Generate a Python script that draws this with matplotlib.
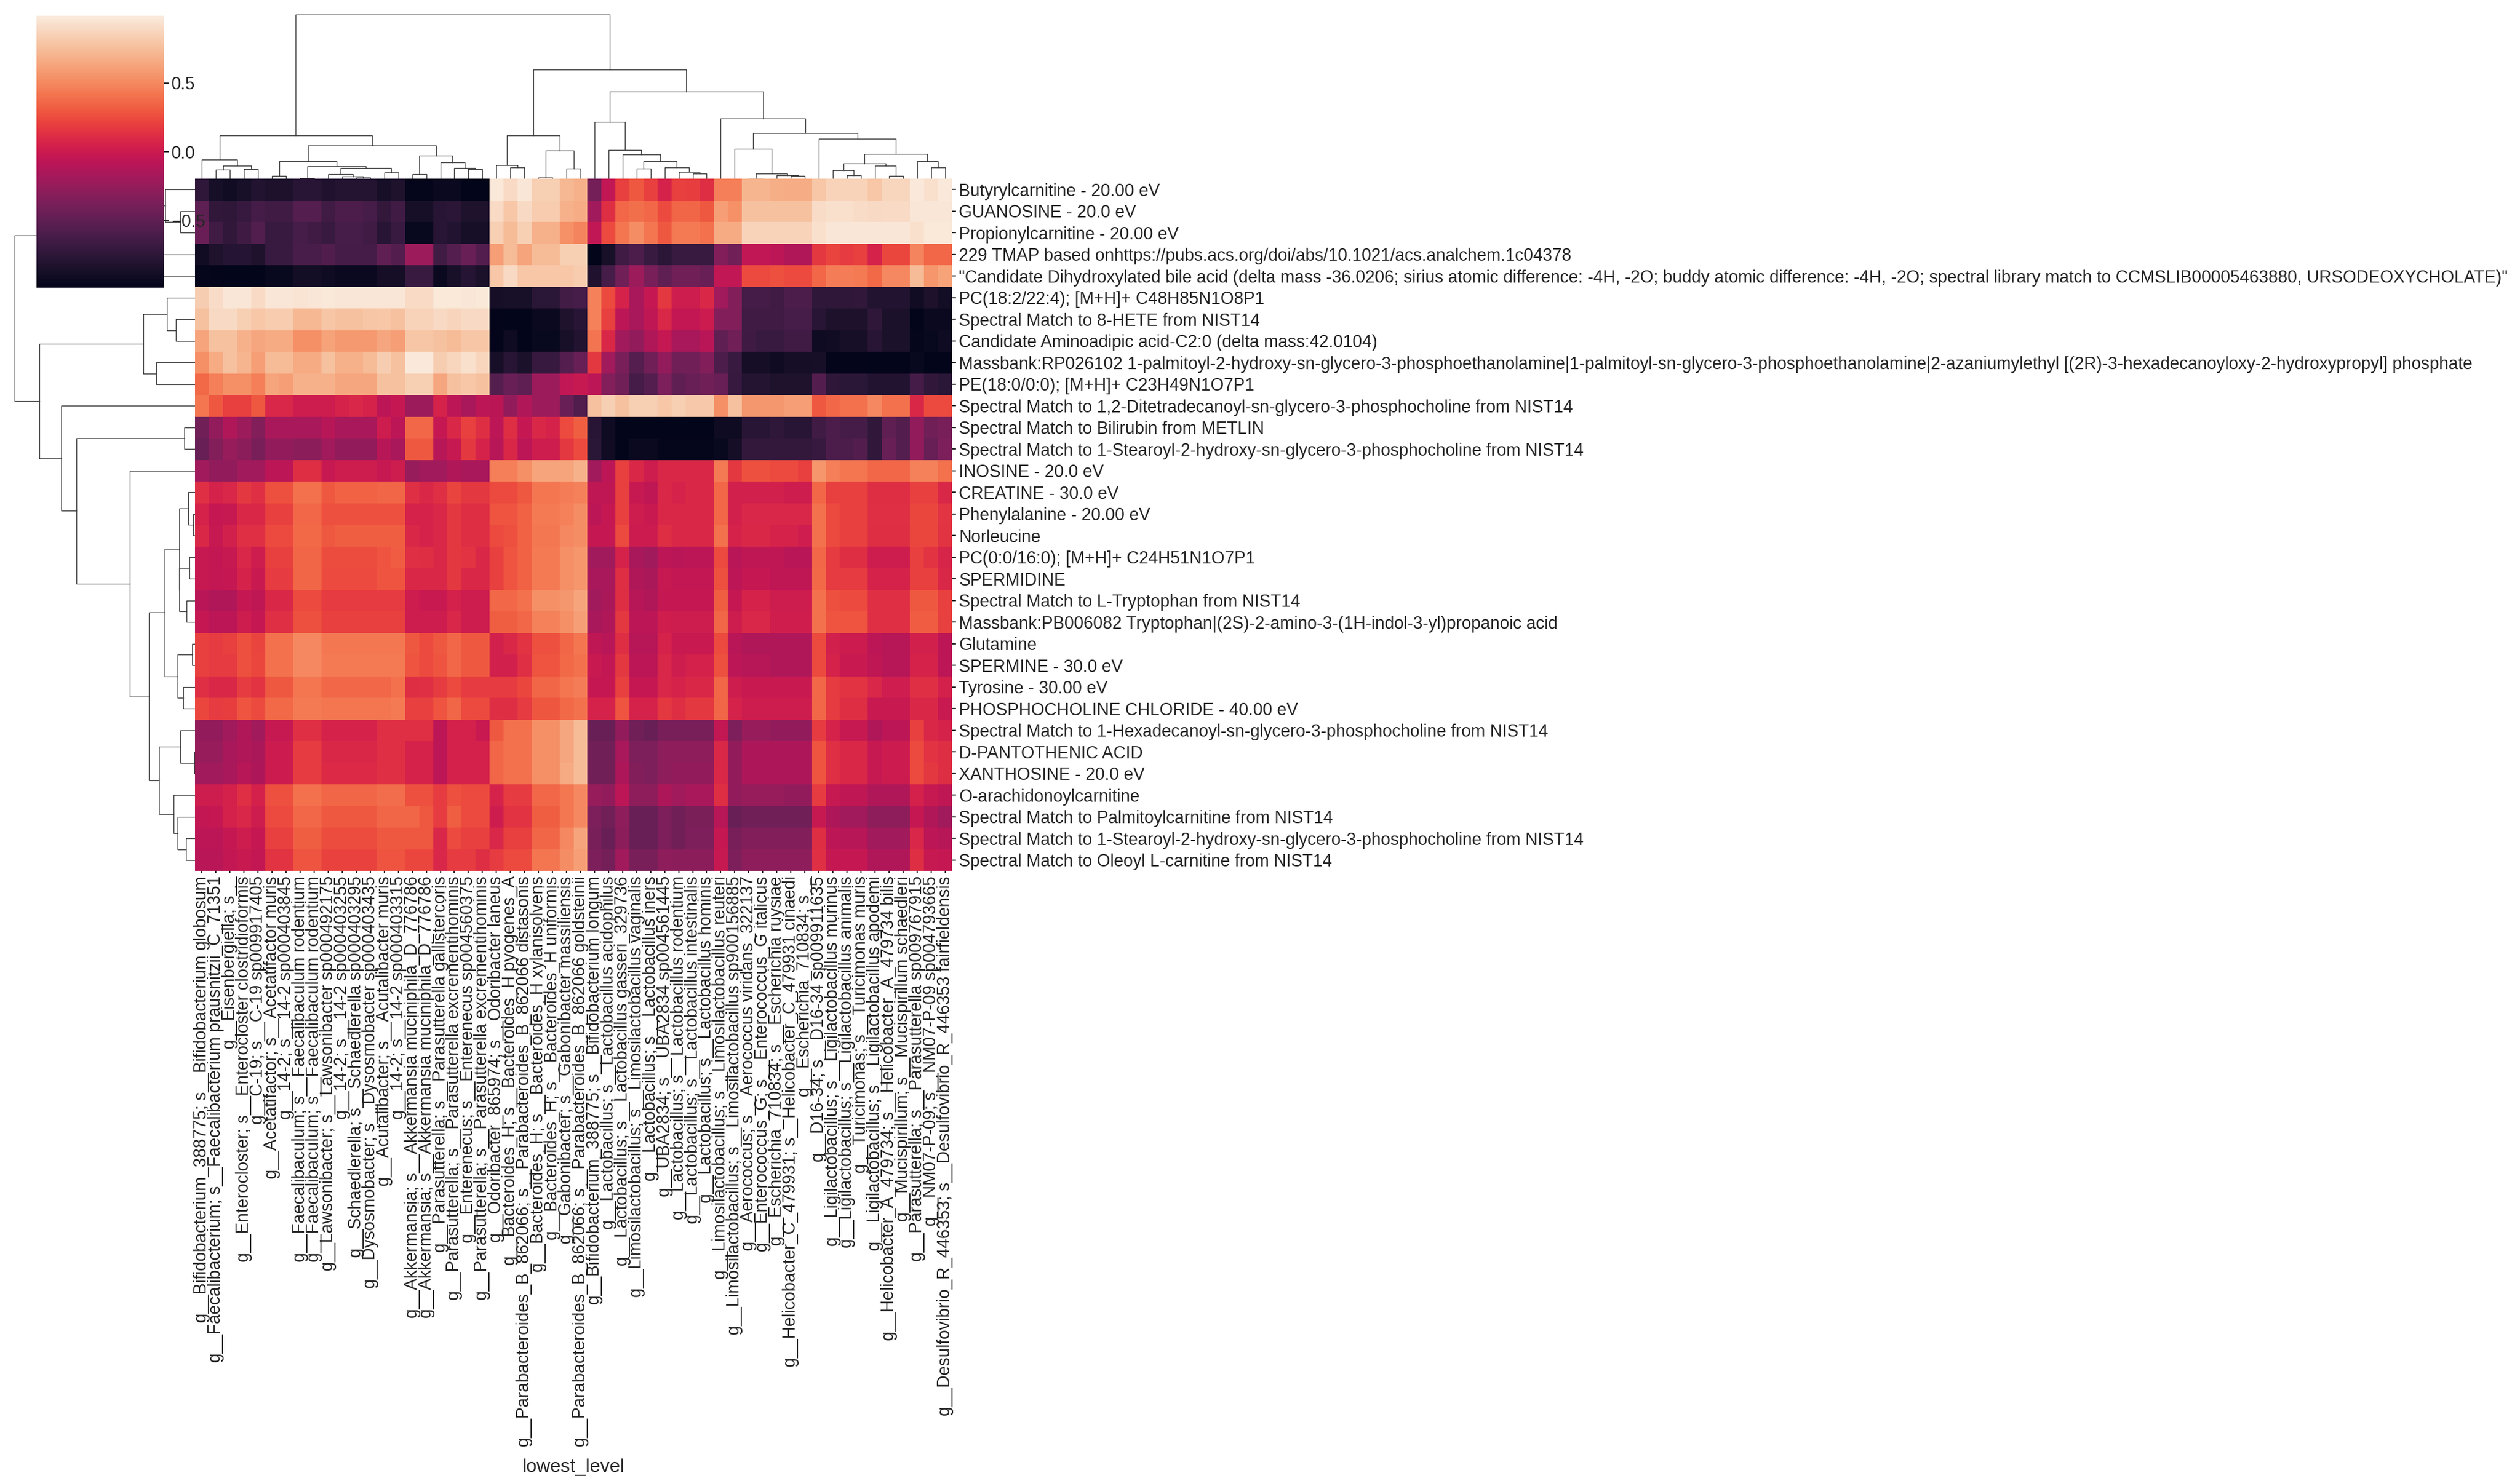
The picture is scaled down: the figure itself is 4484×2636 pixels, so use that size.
import matplotlib
matplotlib.use("Agg")
import matplotlib.pyplot as plt
import pandas as pd
import seaborn as sns

# metabolites (rows, top to bottom as displayed)
ROW_LABELS = [
    "Butyrylcarnitine - 20.00 eV",
    "GUANOSINE - 20.0 eV",
    "Propionylcarnitine - 20.00 eV",
    "229 TMAP based onhttps://pubs.acs.org/doi/abs/10.1021/acs.analchem.1c04378",
    '"Candidate Dihydroxylated bile acid (delta mass -36.0206; sirius atomic difference: -4H, -2O; '
    'buddy atomic difference: -4H, -2O; spectral library match to CCMSLIB00005463880, URSODEOXYCHOLATE)"',
    "PC(18:2/22:4); [M+H]+ C48H85N1O8P1",
    "Spectral Match to 8-HETE from NIST14",
    "Candidate Aminoadipic acid-C2:0 (delta mass:42.0104)",
    "Massbank:RP026102 1-palmitoyl-2-hydroxy-sn-glycero-3-phosphoethanolamine|1-palmitoyl-sn-glycero-3-"
    "phosphoethanolamine|2-azaniumylethyl [(2R)-3-hexadecanoyloxy-2-hydroxypropyl] phosphate",
    "PE(18:0/0:0); [M+H]+ C23H49N1O7P1",
    "Spectral Match to 1,2-Ditetradecanoyl-sn-glycero-3-phosphocholine from NIST14",
    "Spectral Match to Bilirubin from METLIN",
    "Spectral Match to 1-Stearoyl-2-hydroxy-sn-glycero-3-phosphocholine from NIST14",
    "INOSINE - 20.0 eV",
    "CREATINE - 30.0 eV",
    "Phenylalanine - 20.00 eV",
    "Norleucine",
    "PC(0:0/16:0); [M+H]+ C24H51N1O7P1",
    "SPERMIDINE",
    "Spectral Match to L-Tryptophan from NIST14",
    "Massbank:PB006082 Tryptophan|(2S)-2-amino-3-(1H-indol-3-yl)propanoic acid",
    "Glutamine",
    "SPERMINE - 30.0 eV",
    "Tyrosine - 30.00 eV",
    "PHOSPHOCHOLINE CHLORIDE - 40.00 eV",
    "Spectral Match to 1-Hexadecanoyl-sn-glycero-3-phosphocholine from NIST14",
    "D-PANTOTHENIC ACID",
    "XANTHOSINE - 20.0 eV",
    "O-arachidonoylcarnitine",
    "Spectral Match to Palmitoylcarnitine from NIST14",
    "Spectral Match to 1-Stearoyl-2-hydroxy-sn-glycero-3-phosphocholine from NIST14",
    "Spectral Match to Oleoyl L-carnitine from NIST14",
]

# taxa (columns, left to right as displayed)
COL_LABELS = [
    "g__Bifidobacterium_388775; s__Bifidobacterium globosum",
    "g__Faecalibacterium; s__Faecalibacterium prausnitzii_C_71351",
    "g__Eisenbergiella; s__",
    "g__Enterocloster; s__Enterocloster clostridioformis",
    "g__C-19; s__C-19 sp009917405",
    "g__Acetatifactor; s__Acetatifactor muris",
    "g__14-2; s__14-2 sp000403845",
    "g__Faecalibaculum; s__Faecalibaculum rodentium",
    "g__Faecalibaculum; s__Faecalibaculum rodentium",
    "g__Lawsonibacter; s__Lawsonibacter sp000492175",
    "g__14-2; s__14-2 sp000403255",
    "g__Schaedlerella; s__Schaedlerella sp000403295",
    "g__Dysosmobacter; s__Dysosmobacter sp000403435",
    "g__Acutalibacter; s__Acutalibacter muris",
    "g__14-2; s__14-2 sp000403315",
    "g__Akkermansia; s__Akkermansia muciniphila_D_776786",
    "g__Akkermansia; s__Akkermansia muciniphila_D_776786",
    "g__Parasutterella; s__Parasutterella gallistercoris",
    "g__Parasutterella; s__Parasutterella excrementihominis",
    "g__Enterenecus; s__Enterenecus sp004560375",
    "g__Parasutterella; s__Parasutterella excrementihominis",
    "g__Odoribacter_865974; s__Odoribacter laneus",
    "g__Bacteroides_H; s__Bacteroides_H pyogenes_A",
    "g__Parabacteroides_B_862066; s__Parabacteroides_B_862066 distasonis",
    "g__Bacteroides_H; s__Bacteroides_H xylanisolvens",
    "g__Bacteroides_H; s__Bacteroides_H uniformis",
    "g__Gabonibacter; s__Gabonibacter massiliensis",
    "g__Parabacteroides_B_862066; s__Parabacteroides_B_862066 goldsteinii",
    "g__Bifidobacterium_388775; s__Bifidobacterium longum",
    "g__Lactobacillus; s__Lactobacillus acidophilus",
    "g__Lactobacillus; s__Lactobacillus gasseri_329736",
    "g__Limosilactobacillus; s__Limosilactobacillus vaginalis",
    "g__Lactobacillus; s__Lactobacillus iners",
    "g__UBA2834; s__UBA2834 sp004561445",
    "g__Lactobacillus; s__Lactobacillus rodentium",
    "g__Lactobacillus; s__Lactobacillus intestinalis",
    "g__Lactobacillus; s__Lactobacillus hominis",
    "g__Limosilactobacillus; s__Limosilactobacillus reuteri",
    "g__Limosilactobacillus; s__Limosilactobacillus sp900156885",
    "g__Aerococcus; s__Aerococcus viridans_322137",
    "g__Enterococcus_G; s__Enterococcus_G italicus",
    "g__Escherichia_710834; s__Escherichia ruysiae",
    "g__Helicobacter_C_479931; s__Helicobacter_C_479931 cinaedi",
    "g__Escherichia_710834; s__",
    "g__D16-34; s__D16-34 sp009911635",
    "g__Ligilactobacillus; s__Ligilactobacillus murinus",
    "g__Ligilactobacillus; s__Ligilactobacillus animalis",
    "g__Turicimonas; s__Turicimonas muris",
    "g__Ligilactobacillus; s__Ligilactobacillus apodemi",
    "g__Helicobacter_A_479734; s__Helicobacter_A_479734 bilis",
    "g__Mucispirillum; s__Mucispirillum schaedleri",
    "g__Parasutterella; s__Parasutterella sp009767915",
    "g__NM07-P-09; s__NM07-P-09 sp004793665",
    "g__Desulfovibrio_R_446353; s__Desulfovibrio_R_446353 fairfieldensis",
]

# correlation values, one list per row (54 columns each)
CORR = [
    [-0.75, -0.87, -0.90, -0.86, -0.81, -0.84, -0.84, -0.78, -0.78, -0.82, -0.80, -0.80, -0.80, -0.87, -0.83, -0.97, -0.97, -0.94, -0.94, -0.99, -0.99, 0.97, 0.90, 0.96, 0.84, 0.84, 0.72,
     0.69, -0.40, -0.05, 0.20, 0.30, 0.20, 0.06, 0.20, 0.19, 0.12, 0.46, 0.46, 0.71, 0.71, 0.68, 0.67, 0.67, 0.80, 0.86, 0.86, 0.86, 0.80, 0.88, 0.88, 0.98, 0.93, 0.98],
    [-0.51, -0.73, -0.75, -0.70, -0.63, -0.65, -0.65, -0.55, -0.55, -0.65, -0.59, -0.59, -0.62, -0.72, -0.65, -0.87, -0.87, -0.78, -0.76, -0.83, -0.83, 0.90, 0.80, 0.89, 0.82, 0.82, 0.69,
     0.67, -0.20, 0.12, 0.36, 0.39, 0.36, 0.24, 0.35, 0.35, 0.30, 0.60, 0.54, 0.77, 0.77, 0.77, 0.77, 0.77, 0.91, 0.93, 0.93, 0.91, 0.89, 0.90, 0.90, 0.96, 0.96, 0.96],
    [-0.45, -0.65, -0.73, -0.66, -0.57, -0.69, -0.69, -0.62, -0.65, -0.69, -0.62, -0.62, -0.65, -0.78, -0.69, -0.95, -0.95, -0.78, -0.81, -0.87, -0.87, 0.84, 0.74, 0.84, 0.69, 0.69, 0.54,
     0.48, -0.05, 0.24, 0.42, 0.52, 0.42, 0.30, 0.44, 0.44, 0.40, 0.66, 0.66, 0.86, 0.86, 0.86, 0.86, 0.86, 0.93, 0.96, 0.96, 0.96, 0.96, 0.96, 0.96, 0.93, 0.97, 0.97],
    [-0.90, -0.83, -0.79, -0.79, -0.83, -0.69, -0.69, -0.61, -0.61, -0.58, -0.63, -0.63, -0.63, -0.50, -0.56, -0.22, -0.22, -0.65, -0.55, -0.46, -0.56, 0.60, 0.74, 0.63, 0.74, 0.74, 0.84,
     0.84, -0.99, -0.86, -0.65, -0.59, -0.69, -0.76, -0.69, -0.69, -0.69, -0.34, -0.42, -0.05, -0.05, -0.07, -0.13, -0.13, 0.17, 0.22, 0.18, 0.20, 0.06, 0.23, 0.23, 0.48, 0.36, 0.36],
    [-0.97, -0.98, -0.99, -0.99, -0.99, -0.95, -0.95, -0.89, -0.89, -0.92, -0.93, -0.93, -0.93, -0.88, -0.88, -0.69, -0.69, -0.93, -0.86, -0.79, -0.85, 0.80, 0.89, 0.80, 0.80, 0.80, 0.80,
     0.82, -0.82, -0.62, -0.42, -0.22, -0.38, -0.50, -0.42, -0.42, -0.46, -0.05, -0.05, 0.24, 0.24, 0.27, 0.24, 0.24, 0.36, 0.45, 0.45, 0.44, 0.37, 0.50, 0.50, 0.74, 0.56, 0.62],
    [0.83, 0.91, 0.96, 0.96, 0.90, 0.96, 0.96, 0.95, 0.96, 0.97, 0.96, 0.96, 0.96, 0.96, 0.96, 0.90, 0.90, 0.97, 0.97, 0.96, 0.97, -0.88, -0.86, -0.86, -0.77, -0.77, -0.64,
     -0.62, 0.47, 0.24, 0.06, -0.17, -0.03, 0.17, 0.01, 0.01, 0.09, -0.20, -0.34, -0.63, -0.63, -0.65, -0.59, -0.59, -0.75, -0.75, -0.75, -0.73, -0.81, -0.81, -0.81, -0.90, -0.84, -0.89],
    [0.77, 0.89, 0.89, 0.84, 0.80, 0.82, 0.82, 0.72, 0.72, 0.79, 0.77, 0.77, 0.79, 0.80, 0.77, 0.86, 0.86, 0.89, 0.87, 0.89, 0.89, -0.98, -0.99, -0.99, -0.93, -0.93, -0.83,
     -0.78, 0.47, 0.20, -0.07, -0.17, -0.06, 0.09, -0.04, -0.04, 0.00, -0.34, -0.34, -0.65, -0.65, -0.65, -0.62, -0.62, -0.78, -0.84, -0.84, -0.84, -0.75, -0.85, -0.85, -0.99, -0.94, -0.94],
    [0.63, 0.77, 0.77, 0.69, 0.64, 0.66, 0.66, 0.53, 0.53, 0.62, 0.58, 0.58, 0.58, 0.64, 0.60, 0.79, 0.79, 0.77, 0.74, 0.79, 0.79, -0.98, -0.92, -0.99, -0.95, -0.95, -0.86,
     -0.81, 0.41, 0.09, -0.20, -0.27, -0.13, -0.03, -0.17, -0.17, -0.09, -0.50, -0.42, -0.66, -0.69, -0.69, -0.65, -0.65, -0.92, -0.90, -0.87, -0.87, -0.78, -0.85, -0.85, -0.97, -0.95, -0.92],
    [0.53, 0.66, 0.77, 0.71, 0.60, 0.74, 0.74, 0.66, 0.66, 0.77, 0.69, 0.69, 0.74, 0.83, 0.77, 0.98, 0.98, 0.83, 0.88, 0.93, 0.88, -0.87, -0.78, -0.85, -0.70, -0.70, -0.55,
     -0.46, 0.17, -0.20, -0.38, -0.55, -0.42, -0.27, -0.42, -0.42, -0.34, -0.59, -0.69, -0.88, -0.88, -0.91, -0.88, -0.88, -0.87, -0.98, -0.98, -0.98, -0.99, -0.99, -0.99, -0.95, -0.99, -0.99],
    [0.37, 0.46, 0.53, 0.53, 0.46, 0.63, 0.60, 0.69, 0.69, 0.69, 0.64, 0.64, 0.64, 0.77, 0.77, 0.84, 0.84, 0.64, 0.77, 0.80, 0.77, -0.55, -0.46, -0.50, -0.22, -0.22, -0.05,
     -0.02, -0.07, -0.34, -0.42, -0.63, -0.55, -0.36, -0.50, -0.46, -0.42, -0.46, -0.70, -0.80, -0.80, -0.83, -0.83, -0.83, -0.56, -0.75, -0.77, -0.77, -0.81, -0.81, -0.81, -0.63, -0.73, -0.77],
    [0.42, 0.30, 0.20, 0.20, 0.30, 0.08, 0.08, 0.01, 0.01, 0.01, 0.06, 0.08, 0.06, -0.07, -0.03, -0.22, -0.22, 0.06, -0.07, -0.17, -0.07, -0.08, -0.27, -0.13, -0.22, -0.22, -0.46,
     -0.58, 0.77, 0.84, 0.77, 0.84, 0.84, 0.80, 0.84, 0.81, 0.81, 0.53, 0.77, 0.57, 0.57, 0.57, 0.60, 0.60, 0.30, 0.36, 0.40, 0.40, 0.50, 0.40, 0.40, 0.09, 0.24, 0.24],
    [-0.42, -0.27, -0.13, -0.22, -0.34, -0.17, -0.17, -0.17, -0.17, -0.10, -0.17, -0.17, -0.17, 0.01, -0.07, 0.36, 0.36, -0.03, 0.09, 0.20, 0.12, -0.07, 0.12, -0.03, 0.09, 0.06, 0.24,
     0.32, -0.78, -0.92, -0.99, -0.99, -0.99, -0.99, -0.99, -0.99, -0.99, -0.92, -0.92, -0.78, -0.78, -0.75, -0.78, -0.78, -0.65, -0.59, -0.63, -0.63, -0.73, -0.50, -0.56, -0.27, -0.42, -0.38],
    [-0.46, -0.34, -0.24, -0.30, -0.38, -0.27, -0.27, -0.30, -0.30, -0.20, -0.27, -0.27, -0.27, -0.10, -0.17, 0.30, 0.30, -0.10, -0.02, 0.17, 0.06, -0.10, 0.09, -0.07, 0.01, 0.01, 0.17,
     0.24, -0.77, -0.90, -0.99, -0.94, -0.94, -0.97, -0.97, -0.97, -0.97, -0.95, -0.88, -0.72, -0.72, -0.72, -0.72, -0.72, -0.70, -0.59, -0.59, -0.56, -0.73, -0.46, -0.55, -0.27, -0.46, -0.36],
    [-0.20, -0.27, -0.27, -0.20, -0.20, -0.07, -0.07, 0.12, 0.12, -0.02, 0.01, 0.01, 0.01, -0.02, 0.01, -0.24, -0.20, -0.20, -0.13, -0.17, -0.17, 0.46, 0.46, 0.53, 0.63, 0.63, 0.63,
     0.69, -0.20, -0.07, 0.20, 0.09, 0.01, 0.09, 0.09, 0.09, 0.09, 0.44, 0.17, 0.27, 0.27, 0.24, 0.24, 0.20, 0.56, 0.46, 0.42, 0.42, 0.36, 0.36, 0.36, 0.47, 0.47, 0.40],
    [0.13, 0.06, 0.08, 0.17, 0.13, 0.27, 0.27, 0.40, 0.40, 0.30, 0.34, 0.34, 0.34, 0.35, 0.35, 0.13, 0.09, 0.13, 0.22, 0.17, 0.17, 0.24, 0.24, 0.30, 0.42, 0.42, 0.45,
     0.47, -0.06, -0.06, 0.20, -0.02, -0.06, 0.09, 0.06, 0.09, 0.09, 0.36, 0.04, 0.04, 0.04, 0.04, 0.01, 0.01, 0.36, 0.20, 0.20, 0.20, 0.12, 0.12, 0.12, 0.20, 0.20, 0.09],
    [0.06, -0.03, -0.02, 0.09, 0.09, 0.20, 0.20, 0.36, 0.36, 0.27, 0.27, 0.27, 0.27, 0.27, 0.27, 0.06, 0.06, 0.09, 0.17, 0.12, 0.12, 0.28, 0.28, 0.34, 0.44, 0.44, 0.47,
     0.52, -0.07, -0.03, 0.20, 0.01, -0.01, 0.09, 0.09, 0.09, 0.09, 0.36, 0.04, 0.08, 0.08, 0.08, 0.08, 0.08, 0.40, 0.24, 0.20, 0.20, 0.13, 0.13, 0.13, 0.23, 0.23, 0.15],
    [0.09, -0.02, 0.04, 0.13, 0.13, 0.24, 0.24, 0.37, 0.37, 0.30, 0.32, 0.32, 0.32, 0.32, 0.32, 0.09, 0.06, 0.09, 0.17, 0.12, 0.12, 0.24, 0.27, 0.34, 0.43, 0.43, 0.50,
     0.52, -0.03, -0.03, 0.24, 0.00, 0.00, 0.12, 0.09, 0.09, 0.09, 0.40, 0.06, 0.09, 0.09, 0.06, 0.06, 0.02, 0.40, 0.24, 0.20, 0.20, 0.12, 0.12, 0.12, 0.23, 0.23, 0.14],
    [-0.02, -0.04, -0.02, 0.08, 0.01, 0.20, 0.20, 0.35, 0.35, 0.25, 0.25, 0.25, 0.25, 0.28, 0.31, 0.13, 0.12, 0.09, 0.17, 0.14, 0.09, 0.20, 0.28, 0.34, 0.44, 0.44, 0.53,
     0.56, -0.20, -0.20, 0.06, -0.17, -0.20, -0.07, -0.09, -0.07, -0.07, 0.24, -0.09, -0.06, -0.06, -0.06, -0.09, -0.09, 0.36, 0.18, 0.12, 0.12, 0.01, 0.01, 0.01, 0.20, 0.14, 0.07],
    [-0.02, -0.04, -0.03, 0.06, -0.01, 0.18, 0.18, 0.35, 0.35, 0.24, 0.24, 0.24, 0.24, 0.28, 0.28, 0.09, 0.09, 0.09, 0.17, 0.09, 0.09, 0.20, 0.28, 0.34, 0.44, 0.44, 0.53,
     0.56, -0.17, -0.17, 0.12, -0.13, -0.16, -0.02, -0.04, -0.04, -0.04, 0.27, -0.07, -0.03, -0.03, -0.06, -0.06, -0.06, 0.37, 0.18, 0.18, 0.18, 0.06, 0.06, 0.06, 0.20, 0.20, 0.09],
    [-0.09, -0.13, -0.13, -0.03, -0.06, 0.09, 0.09, 0.24, 0.24, 0.18, 0.18, 0.18, 0.18, 0.18, 0.18, 0.01, -0.01, -0.01, 0.05, 0.01, 0.01, 0.36, 0.36, 0.40, 0.53, 0.53, 0.57,
     0.63, -0.20, -0.16, 0.12, -0.10, -0.13, -0.03, -0.03, -0.03, -0.03, 0.32, -0.03, 0.06, 0.06, 0.01, 0.01, 0.01, 0.40, 0.27, 0.24, 0.24, 0.13, 0.13, 0.13, 0.30, 0.30, 0.20],
    [-0.03, -0.07, -0.07, 0.01, -0.03, 0.13, 0.13, 0.27, 0.27, 0.20, 0.20, 0.20, 0.20, 0.20, 0.20, 0.01, 0.01, 0.01, 0.08, 0.01, 0.01, 0.32, 0.32, 0.36, 0.47, 0.47, 0.53,
     0.60, -0.17, -0.13, 0.17, -0.07, -0.07, 0.03, 0.01, 0.01, 0.01, 0.35, 0.01, 0.08, 0.08, 0.03, 0.03, 0.03, 0.40, 0.28, 0.28, 0.28, 0.13, 0.13, 0.13, 0.31, 0.31, 0.20],
    [0.20, 0.18, 0.20, 0.27, 0.22, 0.40, 0.40, 0.50, 0.50, 0.43, 0.43, 0.43, 0.43, 0.43, 0.43, 0.30, 0.24, 0.30, 0.36, 0.30, 0.30, 0.04, 0.09, 0.14, 0.27, 0.27, 0.35,
     0.42, -0.06, -0.09, 0.12, -0.10, -0.10, 0.06, -0.01, -0.01, -0.01, 0.24, -0.09, -0.13, -0.13, -0.13, -0.13, -0.13, 0.24, 0.04, 0.00, 0.00, -0.07, -0.10, -0.10, 0.04, 0.04, -0.07],
    [0.20, 0.18, 0.18, 0.27, 0.23, 0.40, 0.40, 0.50, 0.50, 0.44, 0.44, 0.44, 0.44, 0.44, 0.44, 0.28, 0.24, 0.28, 0.36, 0.30, 0.30, 0.04, 0.04, 0.13, 0.28, 0.28, 0.37,
     0.40, -0.01, -0.04, 0.17, -0.07, -0.07, 0.08, 0.01, 0.05, 0.05, 0.27, -0.07, -0.10, -0.10, -0.13, -0.13, -0.13, 0.24, 0.06, -0.01, -0.01, -0.06, -0.10, -0.10, 0.06, 0.06, -0.07],
    [0.13, 0.09, 0.09, 0.18, 0.14, 0.30, 0.30, 0.42, 0.42, 0.36, 0.36, 0.36, 0.36, 0.36, 0.40, 0.12, 0.13, 0.18, 0.24, 0.18, 0.18, 0.18, 0.18, 0.23, 0.35, 0.35, 0.42,
     0.45, -0.03, -0.03, 0.20, -0.03, -0.03, 0.08, 0.06, 0.09, 0.09, 0.35, 0.01, -0.01, -0.01, -0.01, -0.01, -0.01, 0.36, 0.18, 0.14, 0.14, 0.08, 0.02, 0.02, 0.13, 0.13, 0.05],
    [0.23, 0.18, 0.19, 0.28, 0.24, 0.37, 0.37, 0.44, 0.44, 0.42, 0.42, 0.42, 0.42, 0.42, 0.44, 0.20, 0.20, 0.28, 0.35, 0.24, 0.24, 0.12, 0.12, 0.18, 0.29, 0.29, 0.37,
     0.40, 0.06, 0.06, 0.28, 0.06, 0.06, 0.17, 0.12, 0.17, 0.17, 0.35, 0.06, 0.01, 0.01, 0.01, 0.01, 0.01, 0.36, 0.18, 0.12, 0.12, -0.01, -0.01, -0.01, 0.09, 0.09, -0.01],
    [-0.27, -0.27, -0.20, -0.13, -0.20, -0.02, -0.02, 0.13, 0.13, 0.06, 0.06, 0.06, 0.06, 0.13, 0.13, 0.13, 0.13, -0.07, 0.05, 0.05, -0.01, 0.30, 0.40, 0.40, 0.53, 0.53, 0.64,
     0.74, -0.46, -0.46, -0.27, -0.42, -0.46, -0.38, -0.38, -0.38, -0.38, -0.04, -0.36, -0.24, -0.24, -0.27, -0.27, -0.27, 0.18, 0.06, -0.02, -0.02, -0.13, -0.07, -0.07, 0.20, 0.09, 0.06],
    [-0.24, -0.24, -0.17, -0.13, -0.16, 0.00, 0.00, 0.18, 0.18, 0.09, 0.09, 0.09, 0.09, 0.13, 0.13, 0.06, 0.06, -0.07, 0.05, 0.05, 0.05, 0.35, 0.40, 0.40, 0.53, 0.53, 0.64,
     0.74, -0.42, -0.42, -0.17, -0.36, -0.36, -0.28, -0.28, -0.28, -0.28, 0.09, -0.27, -0.14, -0.14, -0.14, -0.14, -0.14, 0.28, 0.13, 0.09, 0.09, -0.02, 0.00, 0.00, 0.24, 0.14, 0.12],
    [-0.20, -0.20, -0.17, -0.10, -0.14, 0.00, 0.00, 0.18, 0.18, 0.10, 0.10, 0.10, 0.10, 0.13, 0.13, 0.06, 0.06, -0.07, 0.05, 0.05, 0.05, 0.35, 0.40, 0.40, 0.53, 0.53, 0.66,
     0.74, -0.42, -0.42, -0.14, -0.34, -0.36, -0.28, -0.27, -0.27, -0.27, 0.09, -0.27, -0.14, -0.14, -0.14, -0.14, -0.14, 0.28, 0.13, 0.09, 0.09, -0.02, 0.00, 0.00, 0.24, 0.17, 0.12],
    [0.01, 0.01, 0.05, 0.13, 0.05, 0.27, 0.27, 0.40, 0.40, 0.35, 0.35, 0.35, 0.35, 0.38, 0.38, 0.27, 0.27, 0.18, 0.27, 0.24, 0.24, 0.06, 0.18, 0.18, 0.36, 0.36, 0.43,
     0.50, -0.24, -0.27, -0.07, -0.28, -0.28, -0.14, -0.20, -0.17, -0.17, 0.12, -0.27, -0.24, -0.24, -0.24, -0.27, -0.27, 0.18, -0.02, -0.06, -0.06, -0.13, -0.13, -0.13, 0.05, -0.02, -0.06],
    [-0.04, -0.03, 0.05, 0.08, 0.01, 0.24, 0.24, 0.36, 0.36, 0.30, 0.30, 0.30, 0.30, 0.35, 0.35, 0.35, 0.30, 0.18, 0.32, 0.24, 0.24, 0.01, 0.14, 0.14, 0.32, 0.32, 0.43,
     0.50, -0.36, -0.42, -0.28, -0.46, -0.46, -0.36, -0.42, -0.37, -0.37, -0.10, -0.46, -0.42, -0.42, -0.42, -0.42, -0.42, -0.02, -0.14, -0.20, -0.20, -0.28, -0.28, -0.28, -0.03, -0.13, -0.20],
    [-0.07, -0.07, -0.03, 0.01, -0.03, 0.20, 0.20, 0.32, 0.32, 0.25, 0.25, 0.25, 0.25, 0.30, 0.30, 0.30, 0.30, 0.08, 0.24, 0.20, 0.20, 0.08, 0.20, 0.20, 0.35, 0.35, 0.50,
     0.63, -0.38, -0.46, -0.30, -0.46, -0.46, -0.36, -0.42, -0.36, -0.36, -0.03, -0.38, -0.34, -0.34, -0.34, -0.34, -0.34, 0.12, -0.07, -0.10, -0.10, -0.20, -0.20, -0.20, 0.08, -0.07, -0.10],
    [-0.09, -0.09, -0.04, -0.01, -0.04, 0.14, 0.14, 0.28, 0.28, 0.21, 0.21, 0.21, 0.21, 0.28, 0.28, 0.23, 0.23, 0.08, 0.18, 0.18, 0.12, 0.18, 0.24, 0.24, 0.42, 0.42, 0.52,
     0.60, -0.36, -0.40, -0.20, -0.38, -0.38, -0.28, -0.30, -0.30, -0.30, -0.02, -0.36, -0.28, -0.28, -0.28, -0.28, -0.28, 0.13, -0.03, -0.03, -0.03, -0.13, -0.13, -0.13, 0.12, -0.02, -0.03],
]

# dendrograms as nested (left, right, merge height); ints are leaf positions
ROW_TREE = (
    ((0, (1, 2, 25.7), 53.0), (3, 4, 120.0), 200.0),
    (((5, (6, 7, 33.7), 49.7), (8, 9, 68.7), 91.7),
     (10, ((11, 12, 19.3),
           (13, (((((14, (15, 16, 2.7), 11.7), ((17, 18, 9.7), (19, 20, 14.7), 28.0), 28.3),
                   ((21, 22, 4.7), (23, 24, 20.7), 30.7), 53.7),
                  ((25, (26, 27, 1.3), 25.7), (28, (29, (30, 31, 15.7), 30.7), 37.7), 63.7), 81.7)),
            115.7), 210.7), 237.7), 277.0),
    320.7,
)

COL_TREE = (
    ((0, ((1, 2, 16.3), (3, 4, 17.3), 23.3), 34.3),
     (((5, 6, 5.3), ((7, 8, 1.3), ((9, (10, (11, 12, 2.3), 4.3), 8.3), (13, 14, 11.3), 19.3), 22.3), 31.3),
      ((15, 16, 8.3), (17, (18, (19, 20, 17.3), 19.3), 29.3), 41.3), 59.3), 77.3),
    (((21, (22, 23, 20.3), 24.3), ((24, 25, 2.3), (26, 27, 18.3), 50.0), 77.3),
     ((28, (29, (30, ((31, 32, 18.3), (33, (34, (35, 36, 9.3), 12.3), 20.3), 31.3), 43.3), 51.3), 100.3),
      (37, ((38, ((39, 40, 0.3), (41, (42, 43, 5.0), 6.3), 9.3), 53.3),
            (44, (((45, (46, 47, 6.3), 15.3), (48, (49, 50, 5.3), 23.3), 27.3),
                  (51, (52, 53, 20.3), 31.3), 44.3), 71.3), 81.3), 106.3), 154.3), 193.3),
    291.7,
)

TEXT = "#262626"
LINE = (0.2, 0.2, 0.2)
W, H, DPI = 4484, 2636, 200

plt.rcParams["font.family"] = ["Liberation Sans", "DejaVu Sans"]
for key in ("text.color", "axes.labelcolor", "xtick.color", "ytick.color"):
    plt.rcParams[key] = TEXT


def rect(left, top, right, bottom):
    # pixel box -> figure fraction
    return [left / W, 1 - bottom / H, (right - left) / W, (bottom - top) / H]


def draw_dendrogram(ax, tree, n_leaves, rotate=False):
    def walk(node):
        if isinstance(node, int):
            return 5 + 10 * node, 0.0
        left, right, height = node
        x1, h1 = walk(left)
        x2, h2 = walk(right)
        pos = [x1, x1, x2, x2]
        dep = [h1, height, height, h2]
        if rotate:
            ax.plot(dep, pos, color=LINE, lw=0.5)
        else:
            ax.plot(pos, dep, color=LINE, lw=0.5)
        return (x1 + x2) / 2, height

    _, top = walk(tree)
    if rotate:
        ax.set_ylim(0, n_leaves * 10)
        ax.set_xlim(0, top * 1.05)
        ax.invert_xaxis()
        ax.invert_yaxis()
    else:
        ax.set_xlim(0, n_leaves * 10)
        ax.set_ylim(0, top * 1.05)
    ax.set_axis_off()


fig = plt.figure(figsize=(W / DPI, H / DPI), dpi=DPI)
ax_row = fig.add_axes(rect(10, 318, 347, 1550))
ax_col = fig.add_axes(rect(347, 11, 1694, 318))
ax_hm = fig.add_axes(rect(347, 318, 1694, 1550))
ax_cb = fig.add_axes(rect(65, 28, 292, 512))

draw_dendrogram(ax_row, ROW_TREE, len(ROW_LABELS), rotate=True)
draw_dendrogram(ax_col, COL_TREE, len(COL_LABELS))

df = pd.DataFrame(CORR, index=ROW_LABELS, columns=pd.Index(COL_LABELS, name="lowest_level"))
sns.heatmap(df, ax=ax_hm, cbar_ax=ax_cb, cmap="rocket", vmin=-0.99, vmax=0.99,
            xticklabels=True, yticklabels=True, cbar_kws={"ticks": [-0.5, 0, 0.5]})

ax_hm.yaxis.set_ticks_position("right")
ax_hm.yaxis.set_label_position("right")
ax_hm.set_ylabel("")
ax_hm.tick_params(axis="y", labelsize=11, length=2.5, width=0.8, pad=2, labelrotation=0)
ax_hm.tick_params(axis="x", labelsize=11, length=1.5, width=0.8, pad=1.8, labelrotation=90)
ax_hm.set_xlabel("lowest_level", fontsize=12)
ax_hm.xaxis.set_label_coords(0.5, -0.849)

ax_cb.tick_params(labelsize=11, length=2.9, width=0.8, pad=1.8)

fig.savefig("out.png", dpi=DPI)
